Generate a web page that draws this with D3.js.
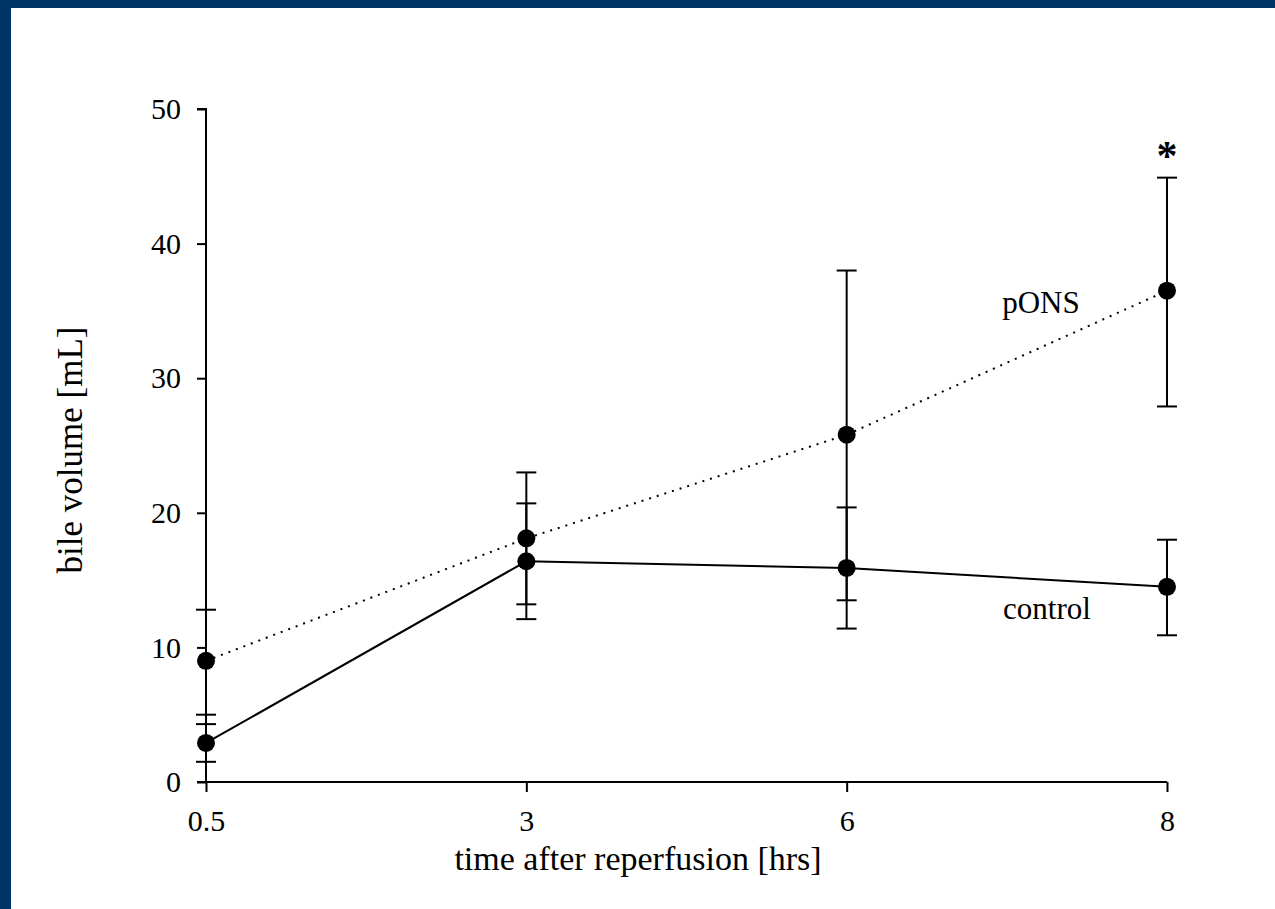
<!doctype html>
<html lang="en">
  <head>
    <meta charset="utf-8" />
    <title>bile volume</title>
    <style>
      html, body { margin: 0; padding: 0; background: #fff; }
      svg { display: block; }
      text { font-family: "Liberation Serif", "Times New Roman", serif; fill: #000; }
    </style>
  </head>
  <body>
    <svg id="chart" width="1275" height="909"></svg>
    <script src="https://cdn.jsdelivr.net/npm/d3@7"></script>
    <script>
      // time points (categorical, evenly spaced on the axis)
      var times = ["0.5", "3", "6", "8"];

      // pONS group: mean and upper / lower end of the error bar
      var ponsMean  = [9.0, 18.1, 25.8, 36.5];
      var ponsUpper = [12.8, 23.0, 38.0, 44.9];
      var ponsLower = [5.0, 13.2, 13.5, 27.9];

      // control group
      var ctrlMean  = [2.9, 16.4, 15.9, 14.5];
      var ctrlUpper = [4.3, 20.7, 20.4, 18.0];
      var ctrlLower = [1.5, 12.1, 11.4, 10.9];

      var yTicks = [0, 10, 20, 30, 40, 50];

      var svg = d3.select("#chart");

      // dark blue frame (top and left)
      svg.append("rect").attr("x", 0).attr("y", 0).attr("width", 1275).attr("height", 8).attr("fill", "#003567");
      svg.append("rect").attr("x", 0).attr("y", 0).attr("width", 11).attr("height", 909).attr("fill", "#003567");

      var x = d3.scalePoint().domain(times).range([206, 1167]);
      var y = d3.scaleLinear().domain([0, 50]).range([782, 109]);

      // y axis
      var yAxis = svg.append("g")
          .attr("transform", "translate(206,0)")
          .call(d3.axisLeft(y).tickValues(yTicks).tickSize(9).tickPadding(16));
      // x axis
      var xAxis = svg.append("g")
          .attr("transform", "translate(0,782)")
          .call(d3.axisBottom(x).tickSize(10).tickSizeOuter(0).tickPadding(18));

      [yAxis, xAxis].forEach(function (ax) {
          ax.select(".domain").attr("stroke", "#000").attr("stroke-width", 2);
          ax.selectAll(".tick line").attr("stroke", "#000").attr("stroke-width", 2);
          ax.selectAll(".tick text")
              .style("font-family", "'Liberation Serif', serif")
              .style("font-size", "30px")
              .attr("fill", "#000");
      });
      yAxis.select(".domain").attr("d", "M-9," + y(50) + "H0V" + y(0) + "H-9");
      xAxis.select(".domain").attr("d", "M206,0H1167");

      // error bars
      function errorBars(up, lo, cls) {
          var g = svg.append("g").attr("class", cls);
          times.forEach(function (t, i) {
              g.append("line")
                  .attr("x1", x(t)).attr("x2", x(t))
                  .attr("y1", y(up[i])).attr("y2", y(lo[i]))
                  .attr("stroke", "#000").attr("stroke-width", 2);
              [up[i], lo[i]].forEach(function (v) {
                  g.append("line")
                      .attr("x1", x(t) - 10).attr("x2", x(t) + 10)
                      .attr("y1", y(v)).attr("y2", y(v))
                      .attr("stroke", "#000").attr("stroke-width", 2);
              });
          });
      }
      errorBars(ponsUpper, ponsLower, "pons-err");
      errorBars(ctrlUpper, ctrlLower, "ctrl-err");

      var line = d3.line()
          .x(function (d, i) { return x(times[i]); })
          .y(function (d) { return y(d); });

      svg.append("path")
          .datum(ponsMean)
          .attr("d", line)
          .attr("fill", "none")
          .attr("stroke", "#000")
          .attr("stroke-width", 2)
          .attr("stroke-dasharray", "2,6");

      svg.append("path")
          .datum(ctrlMean)
          .attr("d", line)
          .attr("fill", "none")
          .attr("stroke", "#000")
          .attr("stroke-width", 2);

      [ponsMean, ctrlMean].forEach(function (series) {
          svg.append("g").selectAll("circle")
              .data(series)
              .enter().append("circle")
              .attr("cx", function (d, i) { return x(times[i]); })
              .attr("cy", function (d) { return y(d); })
              .attr("r", 9)
              .attr("fill", "#000");
      });

      // series labels
      svg.append("text")
          .attr("x", x("8") - 126).attr("y", y(ponsMean[3]) + 22)
          .attr("text-anchor", "middle")
          .style("font-size", "31px")
          .text("pONS");
      svg.append("text")
          .attr("x", x("8") - 120).attr("y", y(ctrlMean[3]) + 32)
          .attr("text-anchor", "middle")
          .style("font-size", "31px")
          .text("control");

      // significance mark
      svg.append("text")
          .attr("x", x("8")).attr("y", y(ponsUpper[3]) - 8)
          .attr("text-anchor", "middle")
          .style("font-size", "42px")
          .style("font-weight", "bold")
          .text("*");

      // axis titles
      svg.append("text")
          .attr("x", 638).attr("y", 870)
          .attr("text-anchor", "middle")
          .style("font-size", "34px")
          .text("time after reperfusion [hrs]");
      svg.append("text")
          .attr("transform", "translate(82,450) rotate(-90)")
          .attr("text-anchor", "middle")
          .style("font-size", "35px")
          .text("bile volume [mL]");
    </script>
  </body>
</html>
